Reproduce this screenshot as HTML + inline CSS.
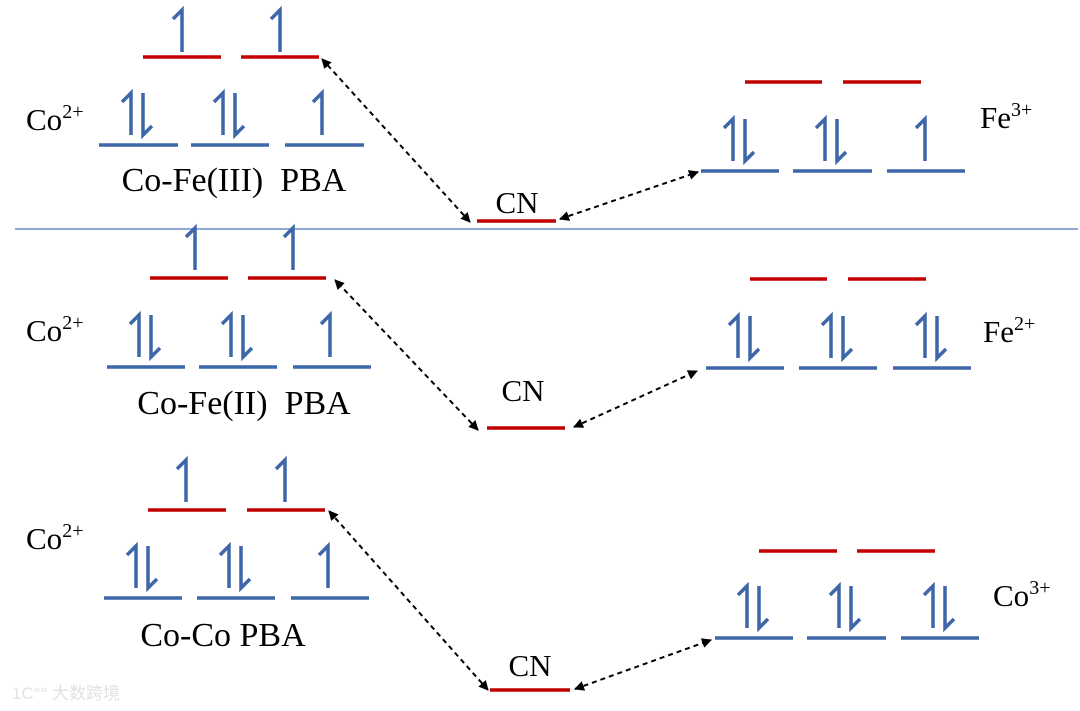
<!DOCTYPE html>
<html><head><meta charset="utf-8"><style>
html,body{margin:0;padding:0;background:#fff;}
svg{display:block;}
text{font-family:"Liberation Serif",serif;fill:#000;}
</style></head><body>
<svg width="1080" height="711" viewBox="0 0 1080 711" xmlns="http://www.w3.org/2000/svg">
<defs>
<marker id="ah" viewBox="0 0 10 10" refX="9" refY="5" markerWidth="5" markerHeight="5" orient="auto-start-reverse"><path d="M0,0 L10,5 L0,10 z" fill="#000"/></marker>
<path id="u" d="M-9,-33 L0,-42 V0" fill="none" stroke="#3d67a8" stroke-width="3.5"/>
<path id="d" d="M0,-42 V0 L9,-9" fill="none" stroke="#3d67a8" stroke-width="3.5"/>
</defs>
<line x1="15" y1="229" x2="1078" y2="229" stroke="#8ea9d8" stroke-width="2"/>
<g stroke-width="3.5">
<g stroke="#c00000"><line x1="143" y1="57" x2="221" y2="57"/><line x1="241" y1="57" x2="319" y2="57"/><line x1="477" y1="221" x2="556" y2="221"/><line x1="745" y1="82" x2="822" y2="82"/><line x1="843" y1="82" x2="921" y2="82"/>
<line x1="150" y1="278" x2="228" y2="278"/><line x1="248" y1="278" x2="326" y2="278"/><line x1="487" y1="428" x2="565" y2="428"/><line x1="750" y1="279" x2="827" y2="279"/><line x1="848" y1="279" x2="926" y2="279"/>
<line x1="148" y1="510" x2="226" y2="510"/><line x1="247" y1="510" x2="325" y2="510"/><line x1="490" y1="690" x2="570" y2="690"/><line x1="759" y1="551" x2="837" y2="551"/><line x1="857" y1="551" x2="935" y2="551"/></g>
<g stroke="#3d67a8"><line x1="99" y1="145" x2="178" y2="145"/><line x1="191" y1="145" x2="269" y2="145"/><line x1="285" y1="145" x2="364" y2="145"/><line x1="701" y1="171" x2="779" y2="171"/><line x1="793" y1="171" x2="872" y2="171"/><line x1="887" y1="171" x2="965" y2="171"/>
<line x1="107" y1="367" x2="185" y2="367"/><line x1="199" y1="367" x2="277" y2="367"/><line x1="293" y1="367" x2="371" y2="367"/><line x1="706" y1="368" x2="784" y2="368"/><line x1="799" y1="368" x2="877" y2="368"/><line x1="893" y1="368" x2="971" y2="368"/>
<line x1="104" y1="598" x2="182" y2="598"/><line x1="197" y1="598" x2="275" y2="598"/><line x1="291" y1="598" x2="369" y2="598"/><line x1="715" y1="638" x2="793" y2="638"/><line x1="807" y1="638" x2="886" y2="638"/><line x1="901" y1="638" x2="979" y2="638"/></g>
</g>
<use href="#u" x="182" y="52"/><use href="#u" x="280" y="52"/>
<use href="#u" x="131" y="135"/><use href="#d" x="143" y="135"/><use href="#u" x="223" y="135"/><use href="#d" x="235" y="135"/><use href="#u" x="322" y="135"/>
<use href="#u" x="733" y="161"/><use href="#d" x="745" y="161"/><use href="#u" x="825" y="161"/><use href="#d" x="837" y="161"/><use href="#u" x="925" y="161"/>
<use href="#u" x="195" y="270"/><use href="#u" x="293" y="270"/>
<use href="#u" x="139" y="357"/><use href="#d" x="151" y="357"/><use href="#u" x="231" y="357"/><use href="#d" x="243" y="357"/><use href="#u" x="330" y="357"/>
<use href="#u" x="738" y="358"/><use href="#d" x="750" y="358"/><use href="#u" x="831" y="358"/><use href="#d" x="843" y="358"/><use href="#u" x="925" y="358"/><use href="#d" x="937" y="358"/>
<use href="#u" x="186" y="502"/><use href="#u" x="285" y="502"/>
<use href="#u" x="136" y="588"/><use href="#d" x="148" y="588"/><use href="#u" x="229" y="588"/><use href="#d" x="241" y="588"/><use href="#u" x="328" y="588"/>
<use href="#u" x="747" y="628"/><use href="#d" x="759" y="628"/><use href="#u" x="839" y="628"/><use href="#d" x="851" y="628"/><use href="#u" x="933" y="628"/><use href="#d" x="945" y="628"/>
<g stroke="#000" stroke-width="2" stroke-dasharray="5,4" fill="none" marker-start="url(#ah)" marker-end="url(#ah)">
<line x1="470" y1="222" x2="322" y2="59"/><line x1="560" y1="219" x2="698" y2="172"/>
<line x1="478" y1="430" x2="335" y2="280"/><line x1="574" y1="427" x2="697" y2="371"/>
<line x1="488" y1="690" x2="329" y2="511"/><line x1="575" y1="689" x2="711" y2="640"/>
</g>
<g font-size="31">
<text x="26" y="130">Co<tspan font-size="20" dy="-12">2+</tspan></text>
<text x="517" y="213" text-anchor="middle">CN</text>
<text x="980" y="128">Fe<tspan font-size="20" dy="-12">3+</tspan></text>
<text x="26" y="341">Co<tspan font-size="20" dy="-12">2+</tspan></text>
<text x="523" y="401" text-anchor="middle">CN</text>
<text x="983" y="342">Fe<tspan font-size="20" dy="-12">2+</tspan></text>
<text x="26" y="549">Co<tspan font-size="20" dy="-12">2+</tspan></text>
<text x="530" y="676" text-anchor="middle">CN</text>
<text x="993" y="606">Co<tspan font-size="20" dy="-12">3+</tspan></text>
</g>
<g font-size="34">
<text x="234" y="191" text-anchor="middle">Co-Fe(III)&#160; PBA</text>
<text x="244" y="414" text-anchor="middle">Co-Fe(II)&#160; PBA</text>
<text x="223" y="646" text-anchor="middle">Co-Co PBA</text>
</g>
<text x="12" y="699" font-size="17" style="font-family:'Liberation Sans','Noto Sans CJK SC',sans-serif;fill:#e2e2e2">1C°° 大数跨境</text>
</svg>
</body></html>
